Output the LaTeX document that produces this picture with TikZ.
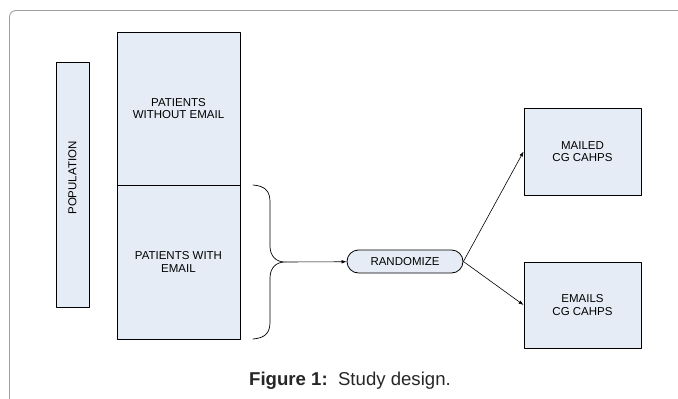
\documentclass[tikz,border=0pt]{standalone}
\usepackage{fontspec}
\setmainfont{Liberation Sans}
\usetikzlibrary{arrows.meta}
\definecolor{boxfill}{RGB}{230,236,246}
\definecolor{framegray}{RGB}{160,160,160}

\tikzset{
  box/.style={draw=black,fill=boxfill,line width=0.8pt,inner sep=0pt,align=center,
    font=\fontsize{11.5}{12.5}\selectfont},
  link/.style={-{Latex[length=5pt,width=3.6pt]},line width=0.6pt}
}

\begin{document}
\begin{tikzpicture}[x=1pt,y=-1pt,line cap=round,line join=round]
\useasboundingbox (0,0) rectangle (678,399);
% outer frame, only top and left visible
\draw[framegray,line width=0.9pt,rounded corners=6.5pt] (9.5,399) -- (9.5,10.5) -- (678,10.5);
% population and the two sub groups
\node[box,rotate=90,minimum width=245,minimum height=33] (pop) at (72.5,184.5) {\hspace*{13pt}POPULATION};
\node[box,minimum width=123,minimum height=153] (noemail) at (178.5,108.5) {PATIENTS\\WITHOUT EMAIL};
\node[box,minimum width=123,minimum height=154] (email) at (178.5,262) {PATIENTS WITH\\EMAIL};
% brace round the email group
\coordinate (tip) at (285,262);
\draw[line width=0.7pt] (253,185) .. controls (266,186) and (270,192) .. (270,202)
  -- (270,246) .. controls (270,256) and (276,262) .. (tip)
  .. controls (276,262) and (270,268) .. (270,278)
  -- (270,322) .. controls (270,332) and (266,338) .. (253,339);
% randomisation and the two arms
\node[box,rounded corners=11.5pt,minimum width=116,minimum height=23] (rand) at (405,261.5) {RANDOMIZE};
\node[box,minimum width=117,minimum height=87] (mail) at (582.5,151.5) {MAILED\\CG CAHPS};
\node[box,minimum width=117,minimum height=86] (emails) at (582.5,305) {EMAILS\\CG CAHPS};
\draw[link] (tip) -- (rand);
\draw[link] (rand.east) -- (mail.west);
\draw[link] (rand.east) -- (emails.west);
% caption
\node[font=\fontsize{18.6}{20}\selectfont,text=black!85] (caption) at (350,381) {\textbf{Figure 1:}\ \ Study design.};
\end{tikzpicture}
\end{document}
